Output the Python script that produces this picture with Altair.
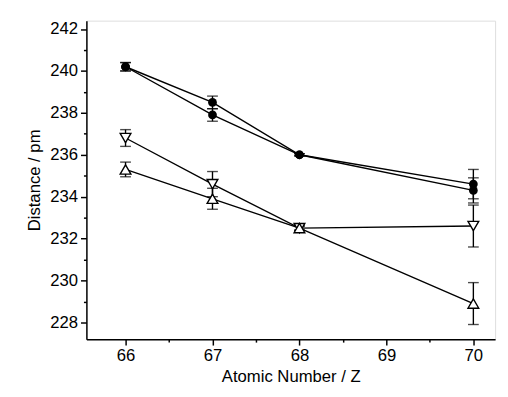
import altair as alt
import pandas as pd

z = [66, 67, 68, 70]
series_names = ["A", "B", "C", "D"]
shapes = ["circle", "circle", "triangle-down", "triangle-up"]
vals = {
    "A": [240.2, 238.5, 236.0, 234.6],
    "B": [240.2, 237.9, 236.0, 234.3],
    "C": [236.8, 234.6, 232.5, 232.6],
    "D": [235.3, 233.9, 232.5, 228.9],
}
errs = {
    "A": [0.2, 0.3, 0.05, 0.7],
    "B": [0.2, 0.3, 0.05, 0.6],
    "C": [0.4, 0.6, 0.1, 1.0],
    "D": [0.35, 0.5, 0.1, 1.0],
}
x_major = [66, 67, 68, 69, 70]
x_minor = [65.5, 66.5, 67.5, 68.5, 69.5]
y_major = list(range(228, 243, 2))
y_minor = list(range(229, 243, 2))

rows = []
for s, sh in zip(series_names, shapes):
    for zi, v, e in zip(z, vals[s], errs[s]):
        rows.append({"s": s, "shape": sh, "z": zi, "d": v, "lo": v - e, "hi": v + e})
df = pd.DataFrame(rows)

FONT = "Liberation Sans"
FS = 17
xs = alt.Scale(domain=[65.55, 70.25], nice=False, zero=False)
ys = alt.Scale(domain=[227.2, 242.4], nice=False, zero=False)

common = dict(grid=False, tickColor="black", domainColor="black", labelFontSize=FS,
              titleFontSize=FS, labelFont=FONT, titleFont=FONT, labelColor="black",
              titleColor="black", titleFontWeight="normal", labelPadding=3,
              domainWidth=1.5, tickWidth=1.5)
xaxis = alt.Axis(values=x_major, title="Atomic Number / Z", orient="bottom", tickSize=6,
                 titlePadding=5, format="d", **common)
yaxis = alt.Axis(values=y_major, title="Distance / pm", orient="left", tickSize=6,
                 titlePadding=6, format="d", **common)

base = alt.Chart(df)

lines = base.mark_line(color="black", strokeWidth=1.4).encode(
    x=alt.X("z:Q", scale=xs, axis=xaxis),
    y=alt.Y("d:Q", scale=ys, axis=yaxis),
    detail="s:N",
)
rules = base.mark_rule(color="black", strokeWidth=1.4).encode(
    x=alt.X("z:Q", scale=xs, axis=None), y=alt.Y("lo:Q", scale=ys, axis=None), y2="hi:Q"
)
cap_lo = base.mark_tick(color="black", orient="horizontal", size=11, thickness=1.4).encode(
    x=alt.X("z:Q", scale=xs, axis=None), y=alt.Y("lo:Q", scale=ys, axis=None)
)
cap_hi = base.mark_tick(color="black", orient="horizontal", size=11, thickness=1.4).encode(
    x=alt.X("z:Q", scale=xs, axis=None), y=alt.Y("hi:Q", scale=ys, axis=None)
)
circles = base.transform_filter("datum.shape == 'circle'").mark_point(
    shape="circle", filled=True, color="black", size=80, opacity=1
).encode(x=alt.X("z:Q", scale=xs, axis=None), y=alt.Y("d:Q", scale=ys, axis=None))
tri_down = base.transform_filter("datum.shape == 'triangle-down'").mark_point(
    shape="triangle-down", fill="white", stroke="black", strokeWidth=1.4, size=120, opacity=1, fillOpacity=1
).encode(x=alt.X("z:Q", scale=xs, axis=None), y=alt.Y("d:Q", scale=ys, axis=None))
tri_up = base.transform_filter("datum.shape == 'triangle-up'").mark_point(
    shape="triangle-up", fill="white", stroke="black", strokeWidth=1.4, size=120, opacity=1, fillOpacity=1
).encode(x=alt.X("z:Q", scale=xs, axis=None), y=alt.Y("d:Q", scale=ys, axis=None))

minor = alt.Chart(pd.DataFrame({"mx": [66.0], "my": [229.0]})).mark_point(opacity=0).encode(
    x=alt.X("mx:Q", scale=xs, axis=alt.Axis(values=x_minor, labels=False, title=None, orient="bottom",
                                             tickSize=3, tickColor="black", domain=False, grid=False, tickWidth=1.5)),
    y=alt.Y("my:Q", scale=ys, axis=alt.Axis(values=y_minor, labels=False, title=None, orient="left",
                                             tickSize=3, tickColor="black", domain=False, grid=False, tickWidth=1.5)),
)

chart = alt.layer(lines, rules, cap_lo, cap_hi, circles, tri_down, tri_up, minor).resolve_axis(
    x="independent", y="independent"
).properties(width=417, height=325).configure_view(stroke=None).configure(
    padding={"left": 18, "top": 8, "right": 5, "bottom": 5}
)

chart.save("out.html", embed_options={"renderer": "svg", "actions": False})
